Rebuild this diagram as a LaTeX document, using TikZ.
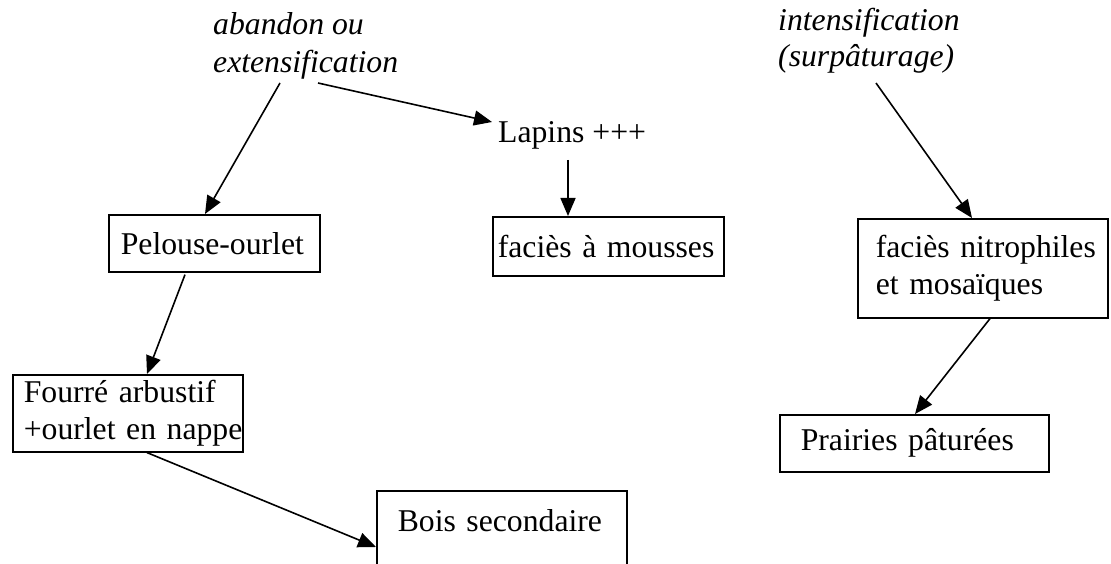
\documentclass[tikz,border=0pt]{standalone}
\usepackage{fontspec}
\setmainfont{Liberation Serif}
\usetikzlibrary{arrows.meta,calc}
\tikzset{
  every node/.style={font=\fontsize{31.7}{37}\selectfont},
  box/.style={draw, line width=1.6pt, anchor=north west, align=left, inner sep=0pt},
  lbl/.style={inner sep=0pt, align=left},
  arr/.style={line width=1.6pt, -{Triangle[length=18pt,width=15pt]}}
}
\begin{document}
\begin{tikzpicture}[x=1pt,y=-1pt]
\clip (0,0) rectangle (1111,564);
\fill[white] (0,0) rectangle (1111,564);
% labels
\node[lbl, anchor=north west, font=\fontsize{31.7}{38}\selectfont\itshape] (aband) at (213,12) {abandon ou\\extensification};
\node[lbl, anchor=north west, font=\fontsize{31.7}{36}\selectfont\itshape] (inten) at (778,8) {intensification\\(surpâturage)};
\node[lbl, anchor=base west] (lap) at (498,143) {Lapins +++};
% boxes
\node[box, minimum width=211pt, minimum height=57pt, text width=211pt] (pel) at (108,214) {\hspace*{12pt}\mbox{Pelouse-ourlet}};
\node[box, minimum width=231pt, minimum height=59pt, text width=231pt] (mou) at (492,216) {\hspace*{5pt}\mbox{faciès à mousses}};
\node[box, minimum width=230pt, minimum height=77pt, text width=230pt] (four) at (12,374) {\hspace*{11pt}\mbox{Fourré arbustif}\\\hspace*{11pt}\mbox{+ourlet en nappe}};
\node[box, minimum width=250pt, minimum height=100pt, text width=250pt, text depth=40pt] (bois) at (376,490) {\hspace*{21pt}\mbox{Bois secondaire}};
\node[box, minimum width=250pt, minimum height=99pt, text width=250pt] (nit) at (857,218) {\hspace*{18pt}\mbox{faciès nitrophiles}\\\hspace*{18pt}\mbox{et mosaïques}};
\node[box, minimum width=269pt, minimum height=57pt, text width=269pt] (pra) at (779,414) {\hspace*{21pt}\mbox{Prairies pâturées}};
% free ends
\coordinate (a1) at (280,83);
\coordinate (a2) at (318,83);
\coordinate (a3) at (876,83);
% connectors
\draw[arr] (a1) -- ($(pel.north west)+(97,0)$);
\draw[arr] (a2) -- ($(lap.base west)+(-6,-21)$);
\draw[arr] ($(lap.base west)+(70,17)$) -- ($(mou.north west)+(76,0)$);
\draw[arr] ($(pel.south west)+(77,2)$) -- ($(four.north west)+(135,0)$);
\draw[arr] ($(four.south west)+(135,0)$) -- ($(bois.north west)+(0,57)$);
\draw[arr] (a3) -- ($(nit.north west)+(115,0)$);
\draw[arr] ($(nit.south west)+(133,0)$) -- ($(pra.north west)+(136,0)$);
\end{tikzpicture}
\end{document}
